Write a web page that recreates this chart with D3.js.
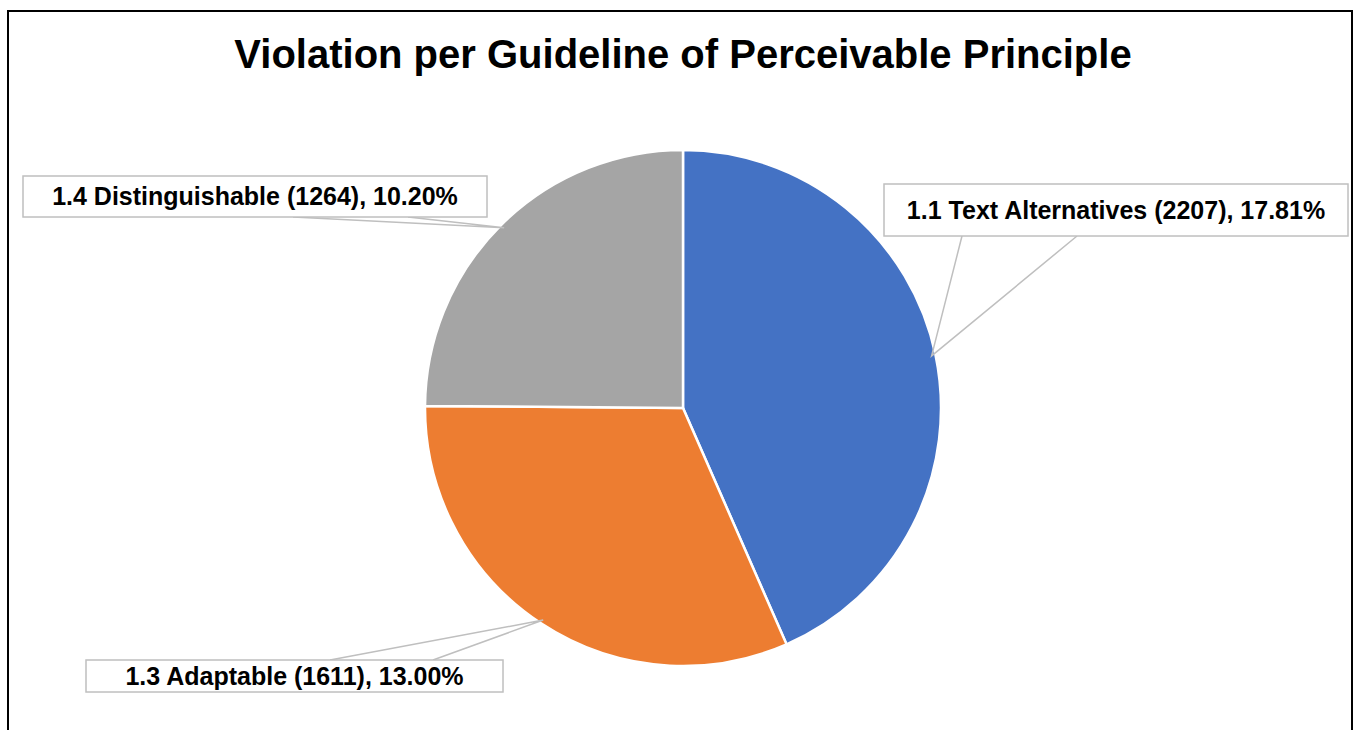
<!DOCTYPE html>
<html>
<head>
<meta charset="utf-8">
<script src="https://cdn.jsdelivr.net/npm/d3@7/dist/d3.min.js"></script>
<style>
  body { margin: 0; background: #fff; }
  svg { display: block; font-family: "Liberation Sans", Arial, sans-serif; }
</style>
</head>
<body>
<div id="chart"></div>
<script>
// data
var guidelines = ["1.1 Text Alternatives", "1.3 Adaptable", "1.4 Distinguishable"];
var counts = [2207, 1611, 1264];
var percents = ["17.81%", "13.00%", "10.20%"];
var colors = ["#4472C4", "#ED7D31", "#A5A5A5"];

var W = 1359, H = 730;
var cx = 683, cy = 408, r = 258;

// callout boxes (layout only): x, y, w, h, text baseline and pointer base points
var callouts = [
    {x: 884, y: 184, w: 464, h: 52, base: 219, b1: 962, b2: 1077},
    {x: 86, y: 660, w: 417, h: 32, base: 685, b1: 330, b2: 433},
    {x: 23, y: 176, w: 464, h: 41, base: 205, b1: 293, b2: 408}
];

var svg = d3.select("#chart").append("svg")
    .attr("width", W)
    .attr("height", H);

svg.append("rect")
    .attr("x", 8).attr("y", 11)
    .attr("width", 1344).attr("height", 760)
    .attr("fill", "#fff")
    .attr("stroke", "#000")
    .attr("stroke-width", 2);

svg.append("text")
    .attr("x", cx)
    .attr("y", 68)
    .attr("text-anchor", "middle")
    .style("font-size", "40px")
    .style("font-weight", "bold")
    .attr("fill", "#000")
    .text("Violation per Guideline of Perceivable Principle");

var rows = guidelines.map(function (g, i) {
    return {name: g, count: counts[i], pct: percents[i], color: colors[i], box: callouts[i]};
});

var pie = d3.pie()
    .sort(null)
    .value(function (d) { return d.count; });

var arc = d3.arc().innerRadius(0).outerRadius(r);
var edge = d3.arc().innerRadius(r - 4).outerRadius(r - 4);

var g = svg.append("g")
    .attr("transform", "translate(" + cx + "," + cy + ")");

var arcs = pie(rows);

g.selectAll("path.slice")
    .data(arcs)
    .enter().append("path")
    .attr("class", "slice")
    .attr("d", arc)
    .attr("fill", function (d) { return d.data.color; })
    .attr("stroke", "#fff")
    .attr("stroke-width", 2.5);

// callouts
arcs.forEach(function (d) {
    var b = d.data.box;
    var tip = edge.centroid(d);
    var tx = cx + tip[0], ty = cy + tip[1];
    var by = (ty < b.y) ? b.y : b.y + b.h;

    svg.append("path")
        .attr("d", "M" + b.b1 + "," + by + "L" + tx + "," + ty + "L" + b.b2 + "," + by)
        .attr("fill", "none")
        .attr("stroke", "#BFBFBF")
        .attr("stroke-width", 1.5);

    svg.append("rect")
        .attr("x", b.x).attr("y", b.y)
        .attr("width", b.w).attr("height", b.h)
        .attr("fill", "#fff")
        .attr("stroke", "#BFBFBF")
        .attr("stroke-width", 1.5);

    svg.append("text")
        .attr("x", b.x + b.w / 2)
        .attr("y", b.base)
        .attr("text-anchor", "middle")
        .style("font-size", "25px")
        .style("font-weight", "bold")
        .attr("fill", "#000")
        .text(d.data.name + " (" + d.data.count + "), " + d.data.pct);
});
</script>
</body>
</html>
